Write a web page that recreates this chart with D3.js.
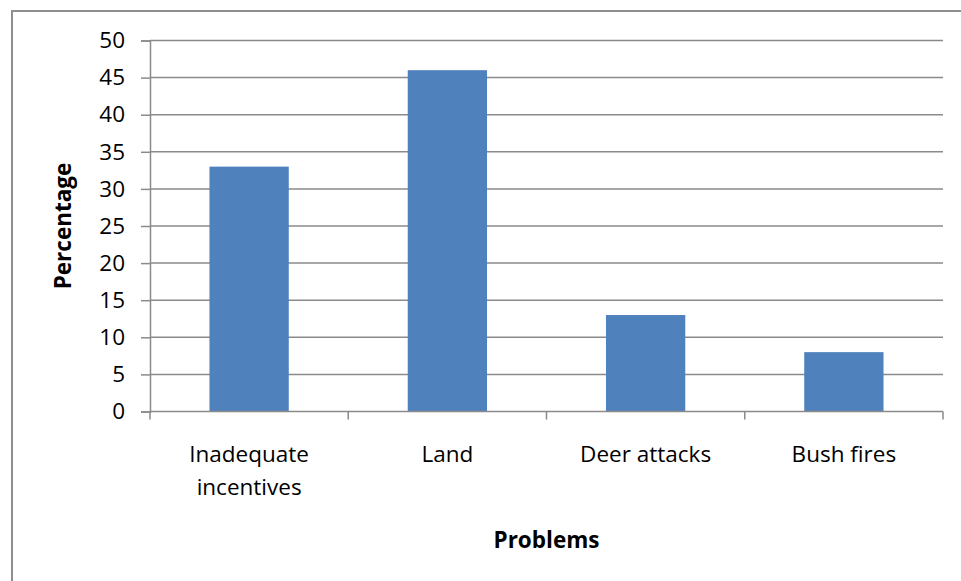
<!DOCTYPE html>
<html>
<head>
<meta charset="utf-8">
<script src="https://cdn.jsdelivr.net/npm/d3@7"></script>
<style>
  html, body { margin: 0; padding: 0; background: #fff; }
  svg { display: block; }
  text { font-family: "Open Sans", "Noto Sans", sans-serif; fill: #000; }
</style>
</head>
<body>
<svg id="chart" width="961" height="581"></svg>
<script>
// Problems reported and the share of respondents naming each
const categories = [["Inadequate", "incentives"], ["Land"], ["Deer attacks"], ["Bush fires"]];
const percentages = [33, 46, 13, 8];
const yTicks = [0, 5, 10, 15, 20, 25, 30, 35, 40, 45, 50];
const xTitle = "Problems";
const yTitle = "Percentage";

const svg = d3.select("#chart");
const W = 961, H = 581;
const plot = { left: 150, right: 943, top: 40.5, bottom: 411.5 };
const labelSize = 22.5;
const titleSize = 22.5;

// Chart frame
svg.append("rect")
  .attr("x", 12).attr("y", 11)
  .attr("width", W + 10).attr("height", H + 10)
  .attr("fill", "#fff")
  .attr("stroke", "#8f8f8f")
  .attr("stroke-width", 2);

const keys = categories.map(c => c.join(" "));
const x = d3.scaleBand().domain(keys).range([plot.left, plot.right]).padding(0);
const y = d3.scaleLinear().domain([0, 50]).range([plot.bottom, plot.top]);

// Horizontal gridlines
svg.append("g")
  .selectAll("line")
  .data(yTicks.filter(t => t > 0))
  .join("line")
  .attr("x1", plot.left).attr("x2", plot.right)
  .attr("y1", d => y(d)).attr("y2", d => y(d))
  .attr("stroke", "#8a8a8a")
  .attr("stroke-width", 1.5);

// Bars
const barW = x.bandwidth() * 0.4;
svg.append("g")
  .selectAll("rect")
  .data(percentages)
  .join("rect")
  .attr("x", (d, i) => x(keys[i]) + (x.bandwidth() - barW) / 2)
  .attr("width", barW)
  .attr("y", d => y(d))
  .attr("height", d => y(0) - y(d))
  .attr("fill", "#4F81BD");

// Y axis
const yAxis = svg.append("g")
  .attr("transform", `translate(${plot.left},0)`)
  .call(d3.axisLeft(y).tickValues(yTicks).tickSize(9).tickPadding(16));
yAxis.select(".domain").attr("stroke", "#8a8a8a").attr("stroke-width", 1.5);
yAxis.selectAll(".tick line").attr("stroke", "#8a8a8a").attr("stroke-width", 1.5);
yAxis.selectAll(".tick text")
  .attr("font-family", "'Open Sans', sans-serif")
  .attr("font-size", labelSize)
  .attr("fill", "#000");

// X axis line with category boundary ticks
svg.append("line")
  .attr("x1", plot.left).attr("x2", plot.right)
  .attr("y1", y(0)).attr("y2", y(0))
  .attr("stroke", "#8a8a8a").attr("stroke-width", 1.5);
const boundaries = keys.map(k => x(k)).concat([plot.right]);
svg.append("g")
  .selectAll("line")
  .data(boundaries)
  .join("line")
  .attr("x1", d => d).attr("x2", d => d)
  .attr("y1", y(0)).attr("y2", y(0) + 8)
  .attr("stroke", "#8a8a8a").attr("stroke-width", 1.5);

// Category labels
const catLabels = svg.append("g")
  .selectAll("text")
  .data(categories)
  .join("text")
  .attr("x", (d, i) => x(keys[i]) + x.bandwidth() / 2)
  .attr("y", 462)
  .attr("text-anchor", "middle")
  .attr("font-size", labelSize);
catLabels.selectAll("tspan")
  .data(function (d) { return d; })
  .join("tspan")
  .attr("x", function () { return d3.select(this.parentNode).attr("x"); })
  .attr("dy", (d, i) => i === 0 ? 0 : 33)
  .text(d => d);

// Axis titles
svg.append("text")
  .attr("x", (plot.left + plot.right) / 2)
  .attr("y", 548)
  .attr("text-anchor", "middle")
  .attr("font-size", titleSize)
  .attr("font-weight", "bold")
  .text(xTitle);

svg.append("text")
  .attr("transform", `translate(71,${(plot.top + plot.bottom) / 2}) rotate(-90)`)
  .attr("text-anchor", "middle")
  .attr("font-size", titleSize)
  .attr("font-weight", "bold")
  .text(yTitle);
</script>
</body>
</html>
